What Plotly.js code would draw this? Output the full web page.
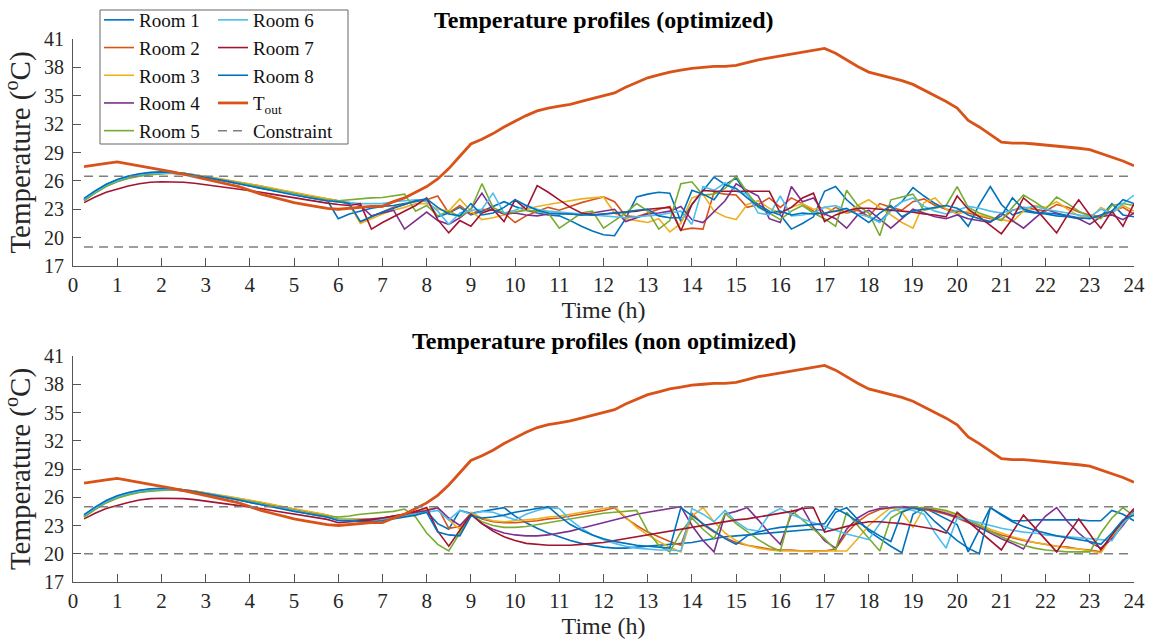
<!DOCTYPE html>
<html>
<head>
<meta charset="utf-8">
<script src="https://cdn.plot.ly/plotly-3.0.1.min.js"></script>
<style>html,body{margin:0;padding:0;background:#fff;}#chart{width:1156px;height:641px;}</style>
</head>
<body>
<div id="chart"></div>
<script>
// ---------- DATA ----------
const times = [0.25,0.5,0.75,1,1.25,1.5,1.75,2,2.25,2.5,2.75,3,3.25,3.5,3.75,4,4.25,4.5,4.75,5,5.25,5.5,5.75,6,
  6.25,6.5,6.75,7,7.25,7.5,7.75,8,8.25,8.5,8.75,9,9.25,9.5,9.75,10,10.25,10.5,10.75,11,11.25,11.5,11.75,12,
  12.25,12.5,12.75,13,13.25,13.5,13.75,14,14.25,14.5,14.75,15,15.25,15.5,15.75,16,16.25,16.5,16.75,17,17.25,17.5,17.75,18,
  18.25,18.5,18.75,19,19.25,19.5,19.75,20,20.25,20.5,20.75,21,21.25,21.5,21.75,22,22.25,22.5,22.75,23,23.25,23.5,23.75,24];

const roomNames = ["Room 1","Room 2","Room 3","Room 4","Room 5","Room 6","Room 7","Room 8"];
const toutName = "T<sub>out</sub>";
const constraintName = "Constraint";

const tOut = [27.5,27.7,27.85,28.0, 27.8,27.6,27.4,27.2, 26.95,26.7,26.45,26.2, 25.95,25.7,25.4,25.0,
  24.6,24.3,24.0,23.7, 23.5,23.3,23.1,23.0, 23.1,23.2,23.3,23.3, 23.8,24.2,24.8,25.4,
  26.2,27.3,28.6,29.9, 30.4,31.0,31.7,32.3, 32.9,33.4,33.7,33.9, 34.1,34.4,34.7,35.0,
  35.3,35.9,36.4,36.9, 37.2,37.5,37.7,37.9, 38.0,38.1,38.1,38.2, 38.5,38.8,39.0,39.2,
  39.4,39.6,39.8,40.0, 39.5,38.8,38.1,37.5, 37.2,36.9,36.6,36.2, 35.6,35.0,34.4,33.7,
  32.4,31.7,30.9,30.1, 30.0,30.0,29.9,29.8, 29.7,29.6,29.45,29.3, 28.9,28.5,28.1,27.6];

// morning (0.25 h .. 5.75 h), shared by both scenarios
const room1Morning = [24.1,24.9,25.6,26.1,26.45,26.7,26.85,26.9,26.9,26.8,26.6,26.4,26.2,26.0,25.75,25.5,25.3,25.05,24.85,24.6,24.35,24.15,23.95];
const room2Morning = [24.0,24.8,25.5,26.0,26.35,26.6,26.75,26.85,26.85,26.8,26.65,26.45,26.3,26.1,25.9,25.7,25.45,25.2,25.0,24.75,24.5,24.3,24.1];
const room3Morning = [24.0,24.8,25.5,26.0,26.35,26.6,26.75,26.85,26.85,26.8,26.65,26.5,26.3,26.1,25.9,25.7,25.5,25.25,25.0,24.8,24.55,24.35,24.1];
const room4Morning = [23.95,24.75,25.45,25.95,26.3,26.55,26.7,26.8,26.8,26.7,26.55,26.35,26.15,25.95,25.7,25.45,25.25,25.0,24.8,24.55,24.3,24.1,23.9];
const room5Morning = [23.9,24.7,25.4,25.9,26.25,26.5,26.65,26.75,26.8,26.7,26.55,26.4,26.2,26.0,25.8,25.55,25.35,25.1,24.9,24.65,24.4,24.2,24.0];
const room6Morning = [24.05,24.85,25.55,26.05,26.4,26.65,26.8,26.85,26.85,26.75,26.6,26.4,26.2,25.95,25.7,25.5,25.25,25.0,24.8,24.55,24.3,24.1,23.9];
const room7Morning = [23.7,24.3,24.8,25.15,25.45,25.7,25.85,25.9,25.9,25.85,25.75,25.6,25.45,25.3,25.15,25.0,24.8,24.6,24.4,24.2,24.0,23.8,23.65];
const room8Morning = [24.15,24.95,25.65,26.15,26.5,26.75,26.9,26.95,26.9,26.8,26.6,26.4,26.2,25.95,25.7,25.45,25.2,25.0,24.75,24.5,24.3,24.1,23.9];

// optimized, 6 h .. 24 h
const room1Opt = [22.0, 22.5,22.8,23.1,23.3, 23.4,23.6,23.8,24.0, 22.2,22.6,23.2,22.4, 22.8,23.3,23.8,23.3, 22.9,22.6,22.4,22.3,
  21.8,21.2,20.7,20.3, 20.2,22.0,24.3,24.6, 24.8,24.7,21.7,23.5, 25.0,26.4,25.6,26.3, 24.5,23.5,22.8,22.4,
  20.9,21.5,22.2,24.9, 25.4,24.0,23.0,22.2, 21.7,22.9,23.8,25.3, 24.4,23.6,23.0,22.6, 21.2,23.5,25.4,23.5,
  22.4,22.8,22.6,22.5, 22.3,22.2,22.0,22.1, 22.2,23.6,22.4,22.2];
const room2Opt = [23.9, 23.5,21.6,22.2,22.7, 23.2,23.5,23.9,24.0, 24.4,22.6,23.4,22.5, 23.0,22.9,22.6,21.6, 22.3,22.8,23.2,22.9,
  23.3,23.7,24.0,24.3, 23.8,22.3,22.2,22.6, 23.0,23.3,20.8,21.0, 20.9,24.8,24.6,24.5, 23.2,23.5,24.2,23.2,
  24.2,23.6,22.8,22.4, 23.2,22.6,22.9,22.2, 23.6,23.2,22.9,23.8, 24.1,23.4,23.0,22.8, 22.6,22.3,22.0,21.9,
  22.9,23.2,23.0,22.8, 23.5,23.2,22.7,22.4, 22.2,22.8,23.2,22.5];
const room3Opt = [23.9, 23.6,21.5,22.0,22.5, 22.9,23.2,23.6,23.6, 23.0,22.8,24.1,22.8, 21.9,22.1,22.4,22.7, 23.0,23.3,23.5,23.7,
  23.9,24.1,24.2,24.3, 22.6,22.0,21.8,21.6, 22.0,20.6,21.5,24.2, 24.6,22.8,22.2,21.9, 23.5,23.9,23.1,22.6,
  23.2,23.6,23.0,23.2, 22.8,22.6,23.4,24.0, 23.2,22.4,21.6,21.0, 23.7,24.2,23.0,22.5, 22.8,22.4,22.1,21.9,
  21.7,22.8,23.4,23.2, 23.8,23.0,22.3,22.0, 23.2,22.6,23.4,22.8];
const room4Opt = [23.8, 23.7,23.4,22.3,22.6, 22.9,20.9,21.8,22.7, 21.8,21.4,22.1,23.0, 24.7,22.9,22.5,22.6, 22.4,22.3,22.5,22.6,
  22.5,22.4,22.6,22.8, 23.0,21.7,22.1,22.5, 22.6,22.8,23.3,21.9, 21.6,22.8,23.9,25.7, 25.0,24.4,22.0,21.6,
  25.4,23.8,24.2,22.5, 22.0,21.0,22.4,22.9, 21.9,21.0,22.0,23.0, 22.6,22.2,22.0,22.4, 22.0,21.8,21.6,22.6,
  21.8,21.0,22.0,23.0, 22.6,22.3,22.0,21.4, 22.2,22.4,21.9,22.6];
const room5Opt = [23.9, 24.0,24.15,24.2,24.25, 24.4,24.6,22.8,23.4, 22.3,22.8,22.2,23.0, 25.7,23.2,22.6,22.7, 22.9,22.8,22.6,21.0,
  21.8,22.6,22.8,21.0, 21.8,22.6,23.6,22.8, 20.9,21.8,25.7,25.9, 24.5,24.6,25.2,26.5, 24.8,23.2,22.6,21.9,
  22.8,23.4,22.6,22.0, 21.2,25.0,23.4,22.6, 20.2,24.0,24.3,24.6, 22.9,23.1,23.4,25.4, 23.2,22.6,22.2,21.8,
  23.2,24.5,23.8,23.0, 24.3,23.6,22.8,22.2, 22.0,23.4,23.6,23.4];
const room6Opt = [23.8, 23.7,23.6,23.6,23.6, 23.8,23.9,24.0,23.8, 22.8,21.4,22.6,22.9, 23.0,24.7,22.6,22.9, 23.4,23.0,22.8,22.7,
  22.6,22.5,22.4,22.3, 22.2,22.1,22.2,22.3, 22.4,22.6,22.8,21.4, 25.4,25.0,25.8,24.9, 24.6,22.6,22.4,24.4,
  22.3,22.4,22.6,23.2, 23.4,22.9,22.5,22.2, 21.6,22.8,23.8,24.2, 23.3,22.8,22.5,22.9, 23.3,23.1,22.8,22.6,
  22.9,23.1,23.3,23.0, 22.8,22.6,22.4,22.2, 23.0,22.6,23.6,24.5];
const room7Opt = [23.5, 23.4,23.6,20.9,21.6, 22.2,22.8,23.4,24.2, 21.9,20.5,21.8,21.2, 22.6,23.0,21.7,24.0, 23.0,25.5,24.8,24.0,
  23.2,22.6,22.4,22.5, 22.6,22.7,22.8,23.0, 23.1,23.2,20.7,23.5, 25.0,24.9,24.9,24.9, 24.9,24.9,24.9,22.6,
  23.2,24.2,24.7,21.7, 22.4,22.8,23.1,23.1, 23.0,22.9,22.8,22.7, 22.5,22.4,22.2,24.4, 23.0,22.2,21.3,20.4,
  22.0,24.2,23.2,21.9, 20.5,22.4,24.0,22.4, 21.0,22.8,21.2,23.6];
const room8Opt = [23.8, 23.6,21.7,22.2,22.7, 23.1,23.5,23.9,24.1, 23.2,22.5,22.3,23.6, 22.4,22.6,23.2,24.0, 23.4,22.9,22.6,22.5,
  22.5,22.4,22.4,22.5, 22.6,22.7,22.9,23.0, 22.3,22.1,22.1,25.0, 24.6,24.0,25.6,25.2, 24.2,23.3,22.6,22.8,
  22.4,22.6,22.5,22.6, 22.8,23.1,22.4,21.6, 22.6,23.4,22.2,22.8, 23.0,23.2,23.4,23.1, 22.4,22.0,21.7,22.3,
  24.2,23.0,22.7,22.6, 22.5,22.3,22.1,22.0, 22.4,22.8,24.0,23.6];

// non optimized, 6 h .. 24 h
const room1Non = [23.6, 23.6,23.5,23.5,23.6, 23.8,24.0,24.2,24.5, 23.2,22.6,24.6,24.3, 24.5,24.7,24.9,24.0, 23.3,22.7,22.2,21.8,
  21.4,21.1,20.9,20.7, 20.6,20.6,20.7,20.8, 20.9,21.0,21.1,21.2, 21.4,21.6,21.8,21.9, 22.0,22.1,22.2,22.3,
  22.4,22.5,22.6,22.5, 24.4,24.9,23.6,22.4, 21.6,20.8,20.1,24.2, 24.9,24.3,23.7,23.1, 20.2,22.6,24.9,24.2,
  23.5,23.5,23.6,23.6, 23.6,23.6,23.6,23.5, 23.5,24.6,24.2,23.5];
const room2Non = [23.7, 23.7,23.6,23.6,23.7, 23.9,24.1,24.4,24.6, 24.9,22.7,22.9,24.3, 23.7,23.4,23.3,23.3, 23.4,23.5,23.7,23.8,
  24.0,24.2,24.4,24.6, 24.9,23.8,23.0,22.3, 21.8,21.3,20.9,24.3, 23.1,22.3,21.7,21.2, 20.9,20.7,20.5,20.4,
  20.4,20.3,20.3,20.3, 20.5,22.2,23.4,24.2, 24.7,24.9,24.9,24.8, 24.7,24.5,24.2,23.8, 23.3,22.8,22.4,22.0,
  21.7,21.4,21.2,21.0, 20.8,20.7,20.5,20.4, 20.2,22.0,23.4,24.4];
const room3Non = [23.8, 23.7,23.7,23.7,23.8, 24.0,24.2,24.5,24.7, 24.9,23.6,22.6,24.4, 23.8,23.5,23.4,23.5, 23.6,23.7,23.9,24.0,
  24.2,24.4,24.6,24.8, 25.0,23.9,22.8,22.0, 21.3,20.7,20.2,24.0, 24.9,23.4,22.2,21.4, 20.9,20.6,20.4,20.3,
  20.3,20.3,20.2,20.3, 20.3,20.3,21.6,23.0, 24.0,24.9,24.4,22.8, 24.9,24.7,24.5,24.1, 23.6,23.1,22.6,22.2,
  21.8,21.5,21.2,21.0, 20.8,20.6,20.5,20.3, 20.1,21.8,23.2,24.3];
const room4Non = [23.6, 23.5,23.6,23.7,23.8, 24.0,24.2,24.4,24.6, 24.9,23.8,23.0,24.2, 23.2,22.6,22.2,22.0, 21.9,21.9,22.0,22.2,
  22.4,22.7,23.0,23.3, 23.6,23.9,24.2,24.4, 24.6,24.8,25.0,23.0, 21.4,20.2,24.2,24.5, 24.9,23.6,22.2,21.0,
  24.2,24.9,22.8,21.4, 20.6,22.6,23.8,24.5, 24.8,24.9,25.0,24.9, 24.8,24.6,24.3,23.9, 23.4,22.8,22.2,21.6,
  21.1,20.5,22.6,24.0, 24.9,23.4,22.2,21.2, 20.6,21.6,23.0,24.6];
const room5Non = [23.9, 24.0,24.2,24.3,24.4, 24.5,24.75,23.9,22.2, 21.0,20.3,22.2,24.1, 23.4,23.0,22.8,22.8, 22.9,23.1,23.3,23.5,
  23.7,23.9,24.1,24.3, 24.4,24.5,24.6,22.4, 20.9,20.2,22.3,23.8, 22.6,21.6,24.3,23.2, 22.3,21.5,20.8,20.3,
  24.6,23.6,22.6,21.6, 20.4,24.4,23.0,21.6, 20.3,23.8,24.5,24.9, 24.9,24.8,24.6,24.2, 23.6,23.0,22.4,21.8,
  21.3,20.9,20.6,20.4, 20.3,20.2,20.2,20.2, 22.2,23.8,24.9,24.0];
const room6Non = [23.6, 23.6,23.5,23.5,23.6, 23.8,24.0,24.2,24.4, 24.6,23.6,24.6,24.2, 24.5,24.4,24.0,23.6, 24.2,24.6,24.9,24.8,
  23.6,22.7,22.0,21.5, 21.1,20.8,20.6,20.5, 20.4,20.4,20.3,24.8, 24.2,23.4,24.6,23.4, 22.6,22.4,24.2,24.8,
  24.2,23.7,23.3,22.9, 22.5,22.1,21.8,21.5, 23.2,24.5,24.8,24.6, 24.2,22.2,20.6,23.8, 23.6,23.3,23.0,22.7,
  22.5,22.3,22.2,22.0, 21.9,21.8,21.7,21.6, 21.5,21.4,23.2,24.4];
const room7Non = [23.3, 23.4,23.5,23.6,23.8, 24.0,24.2,24.5,24.9, 22.4,20.8,22.5,24.2, 23.2,22.4,21.8,21.4, 21.1,21.0,20.9,20.9,
  20.9,21.0,21.1,21.2, 21.4,21.6,21.8,22.0, 22.2,22.4,22.6,22.8, 23.0,23.2,23.4,23.6, 23.7,23.9,24.1,24.3,
  24.5,24.8,24.9,22.3, 22.6,22.9,23.2,23.4, 23.4,23.3,23.2,23.0, 22.8,22.6,22.2,24.4, 23.4,22.4,21.4,20.4,
  22.3,24.1,22.8,21.5, 20.2,22.0,23.7,22.1, 20.4,22.0,23.5,24.8];
const room8Non = [23.5, 23.5,23.4,23.4,23.5, 23.7,23.9,24.1,24.4, 22.3,22.0,21.9,24.0, 23.8,23.9,24.1,24.4, 24.6,24.8,25.0,24.0,
  23.1,22.5,22.0,21.6, 21.3,21.1,20.9,20.8, 20.7,20.6,24.9,24.0, 23.2,22.4,21.6,21.0, 21.9,22.3,22.6,22.8,
  22.9,23.0,23.1,23.2, 24.8,24.2,23.4,22.6, 21.9,21.3,24.4,24.9, 24.6,23.4,22.4,21.4, 20.6,20.0,24.9,24.1,
  23.4,22.9,22.5,22.2, 21.9,21.7,21.5,21.3, 21.0,22.2,23.6,24.1];

const constraintOpt = [26.5, 19];   // upper, lower (°C)
const constraintNon = [25, 20];

const xTickVals = [0,1,2,3,4,5,6,7,8,9,10,11,12,13,14,15,16,17,18,19,20,21,22,23,24];
const yTickVals = [17,20,23,26,29,32,35,38,41];

// ---------- STYLES ----------
const roomColors = ["#0072BD","#D95319","#EDB120","#7E2F8E","#77AC30","#4DBEEE","#A2142F","#0072BD"];
const FONT = "Liberation Serif, Times New Roman, serif";
const morning = [room1Morning,room2Morning,room3Morning,room4Morning,room5Morning,room6Morning,room7Morning,room8Morning];
const optDay = [room1Opt,room2Opt,room3Opt,room4Opt,room5Opt,room6Opt,room7Opt,room8Opt];
const nonDay = [room1Non,room2Non,room3Non,room4Non,room5Non,room6Non,room7Non,room8Non];

const traces = [];
function addPanel(dayArr, constraint, xa, ya, showLeg) {
  for (let i = 0; i < 8; i++) {
    traces.push({
      type: "scatter", mode: "lines", x: times, y: morning[i].concat(dayArr[i]),
      xaxis: xa, yaxis: ya, name: roomNames[i],
      line: {color: roomColors[i], width: 1.6},
      showlegend: showLeg, legend: i < 5 ? "legend" : "legend2", hoverinfo: "skip"
    });
  }
  traces.push({
    type: "scatter", mode: "lines", x: times, y: tOut, xaxis: xa, yaxis: ya,
    name: toutName, line: {color: "#D95319", width: 2.8},
    showlegend: showLeg, legend: "legend2", hoverinfo: "skip"
  });
  const x0 = times[0], x1 = times[times.length - 1];
  traces.push({
    type: "scatter", mode: "lines",
    x: [x0, x1, null, x0, x1],
    y: [constraint[0], constraint[0], null, constraint[1], constraint[1]],
    xaxis: xa, yaxis: ya, name: constraintName, connectgaps: false,
    line: {color: "#7f7f7f", width: 1.5, dash: "9px,6px"},
    showlegend: showLeg, legend: "legend2", hoverinfo: "skip"
  });
}
addPanel(optDay, constraintOpt, "x", "y", true);
addPanel(nonDay, constraintNon, "x2", "y2", false);

const axisCommon = {
  showline: true, linecolor: "#555555", linewidth: 1, mirror: false,
  ticks: "inside", ticklen: 8, tickwidth: 1, tickcolor: "#555555",
  showgrid: false, zeroline: false, fixedrange: true, automargin: false,
  tickfont: {family: FONT, size: 20, color: "#262626"}
};
function xAxis(anchor) {
  return Object.assign({}, axisCommon, {
    range: [0, 24], tickmode: "array", tickvals: xTickVals, anchor: anchor, domain: [0, 1],
    tickfont: {family: FONT, size: 21, color: "#262626"},
    title: {text: "Time (h)", font: {family: FONT, size: 24, color: "#262626"}, standoff: 2}
  });
}
function yAxis(anchor, dom) {
  return Object.assign({}, axisCommon, {
    range: [17, 41], tickmode: "array", tickvals: yTickVals, anchor: anchor, domain: dom,
    ticklabelstandoff: 4,
    title: {text: "Temperature (<sup>o</sup>C)", font: {family: FONT, size: 29, color: "#262626"}, standoff: 6}
  });
}

const L = 73, R = 22, T = 39, B = 59, W = 1156, H = 641;
const pw = W - L - R, ph = H - T - B;
const px = v => (v - L) / pw;       // pixel -> paper x
const py = v => (H - B - v) / ph;   // pixel -> paper y

const layout = {
  width: W, height: H,
  margin: {l: L, r: R, t: T, b: B, pad: 0, autoexpand: false},
  paper_bgcolor: "#ffffff", plot_bgcolor: "#ffffff",
  font: {family: FONT, color: "#262626"},
  showlegend: true,
  xaxis: xAxis("y"), yaxis: yAxis("x", [py(266), 1]),
  xaxis2: xAxis("y2"), yaxis2: yAxis("x2", [0, py(356)]),
  legend: {x: px(99), y: py(1), xanchor: "left", yanchor: "top", bgcolor: "rgba(0,0,0,0)",
    borderwidth: 0, font: {family: FONT, size: 19, color: "#111"}, traceorder: "normal", tracegroupgap: 0},
  legend2: {x: px(213), y: py(1), xanchor: "left", yanchor: "top", bgcolor: "rgba(0,0,0,0)",
    borderwidth: 0, font: {family: FONT, size: 19, color: "#111"}, traceorder: "normal", tracegroupgap: 0},
  shapes: [{type: "rect", xref: "paper", yref: "paper", x0: px(100), x1: px(348), y0: py(144), y1: py(10),
    line: {color: "#666666", width: 1}, fillcolor: "#ffffff", layer: "above"}],
  annotations: [
    {text: "<b>Temperature profiles (optimized)</b>", xref: "paper", yref: "paper", x: 0.5, y: py(20),
      xanchor: "center", yanchor: "middle", showarrow: false, font: {family: FONT, size: 24, color: "#000"}},
    {text: "<b>Temperature profiles (non optimized)</b>", xref: "paper", yref: "paper", x: 0.5, y: py(341),
      xanchor: "center", yanchor: "middle", showarrow: false, font: {family: FONT, size: 24, color: "#000"}}
  ]
};

Plotly.newPlot("chart", traces, layout, {displayModeBar: false, staticPlot: true});
</script>
</body>
</html>
